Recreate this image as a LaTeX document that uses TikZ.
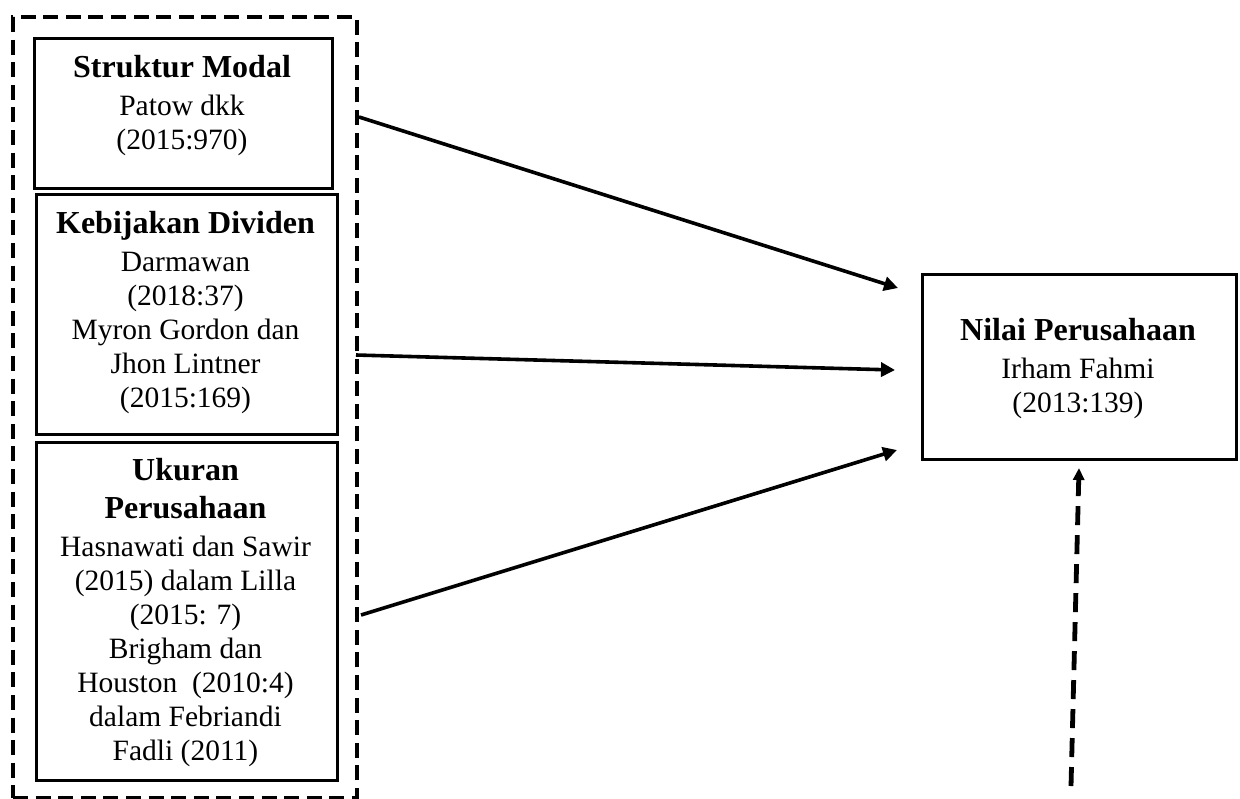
\documentclass[tikz,border=0pt]{standalone}
\usepackage{fontspec}
\setmainfont{Liberation Serif}
\usetikzlibrary{arrows.meta,calc}
\newcommand{\hd}{\fontsize{16}{17}\selectfont\bfseries}
\begin{document}
\begin{tikzpicture}[x=0.5pt,y=-0.5pt,
  box/.style={draw,line width=1.4pt,inner sep=0pt,anchor=north west},
  txt/.style={align=center,font=\fontsize{14.75}{17}\selectfont,inner sep=0pt},
  arr/.style={line width=1.8pt,-{Triangle[length=7pt,width=7pt]}},
  darr/.style={line width=2.4pt,dash pattern=on 9.5pt off 5pt,-{Triangle[length=6pt,width=5.5pt]}},
  grpbox/.style={draw,line width=2pt,dash pattern=on 7.5pt off 3.8pt,inner sep=0pt,anchor=north west}]
\useasboundingbox (0,0) rectangle (1240,798);
% group of independent variables
\node[grpbox,minimum width=172pt,minimum height=390.5pt] (grp) at (11,15) {};
% boxes
\node[box,minimum width=149pt,minimum height=75pt] (sm) at (33,37) {};
\node[box,minimum width=150.5pt,minimum height=120pt] (kd) at (35,193) {};
\node[box,minimum width=150.5pt,minimum height=169pt] (up) at (35,441) {};
\node[box,minimum width=157pt,minimum height=92.5pt] (np) at (921,273) {};
% texts
\node[txt] (smt) at (182,106) {{\hd Struktur Modal}\\[2pt]Patow dkk\\(2015:970)};
\node[txt] (kdt) at (185.5,313) {{\hd Kebijakan Dividen}\\[2pt]Darmawan\\(2018:37)\\Myron Gordon dan\\Jhon Lintner\\(2015:169)};
\node[txt] (upt) at (185.5,613) {{\hd Ukuran}\\[2pt]{\hd Perusahaan}\\[2pt]Hasnawati dan Sawir\\(2015) dalam Lilla\\(2015: 7)\\Brigham dan\\Houston\ \ (2010:4)\\dalam Febriandi\\Fadli (2011)};
\node[txt] (npt) at (1078,369) {{\hd Nilai Perusahaan}\\[2pt]Irham Fahmi\\(2013:139)};
% connector end points
\coordinate (s1) at (359,117);
\coordinate (e1) at (898,288);
\coordinate (s2) at (356,355);
\coordinate (e2) at (895,370);
\coordinate (s3) at (361,615);
\coordinate (e3) at (897,450);
\coordinate (s4) at (1071,786);
\coordinate (e4) at (1079,468);
% connectors
\draw[arr] (s1) -- (e1);
\draw[arr] (s2) -- (e2);
\draw[arr] (s3) -- (e3);
\draw[darr] (s4) -- (e4);
\end{tikzpicture}
\end{document}
